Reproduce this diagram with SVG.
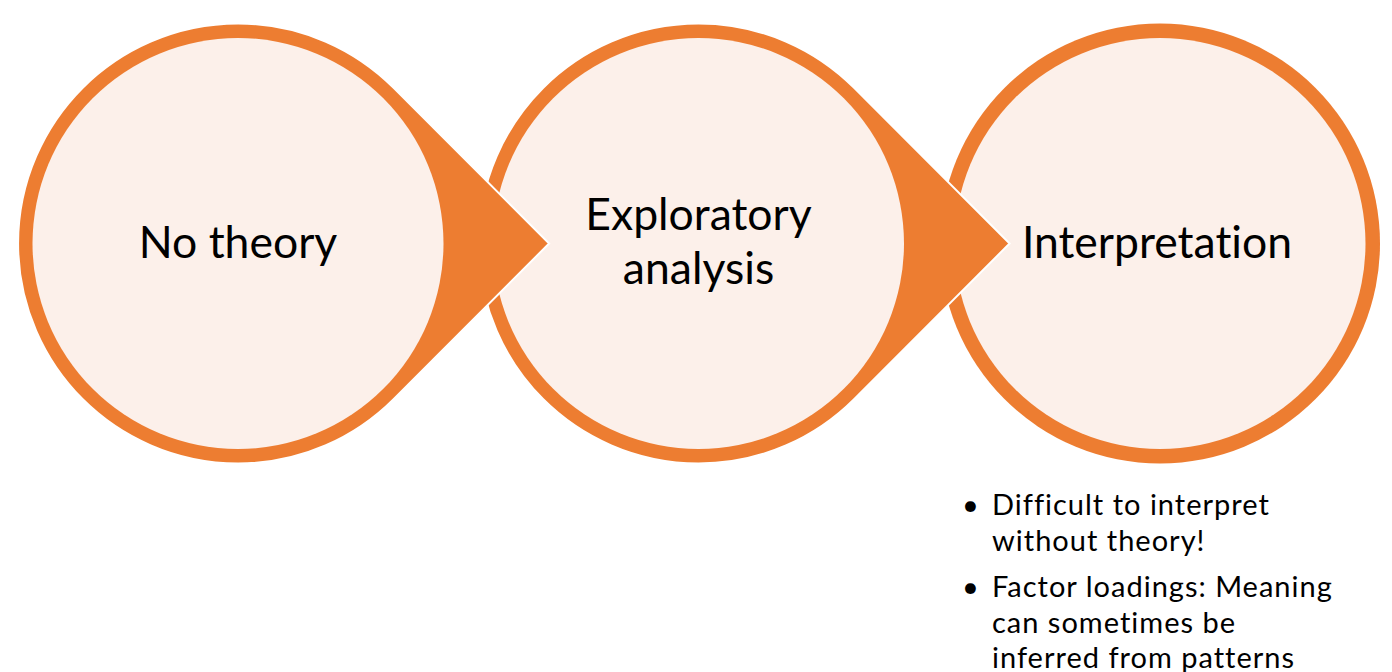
<svg xmlns="http://www.w3.org/2000/svg" width="1392" height="672" viewBox="0 0 1392 672">
  <style>
    .drop { fill: #ED7D31; stroke: #FFFFFF; stroke-width: 2; stroke-linejoin: miter; }
    .ring { fill: #ED7D31; }
    .inner { fill: #FCF0EA; }
    .label { font-family: Lato, "Liberation Sans", sans-serif; font-size: 44.5px; fill: #000000; text-anchor: middle; font-variant-ligatures: none; }
    .note { font-family: Lato, "Liberation Sans", sans-serif; font-size: 29px; letter-spacing: 1px; fill: #000000; font-variant-ligatures: none; }
  </style>
  <rect width="1392" height="672" fill="#FFFFFF"/>

  <g id="node-interpretation">
    <circle class="ring" cx="1160" cy="243.5" r="220"/>
    <circle class="inner" cx="1160" cy="243.5" r="205.5"/>
    <text class="label" x="1157" y="258">Interpretation</text>
  </g>

  <g id="node-exploratory">
    <path class="drop" d="M1009.6 243.5 L854.1 399.1 A220 220 0 1 1 854.1 87.9 Z"/>
    <circle class="inner" cx="698.5" cy="243.5" r="205.5"/>
    <text class="label" x="698.5" y="230">Exploratory</text>
    <text class="label" x="698.5" y="284">analysis</text>
  </g>

  <g id="node-no-theory">
    <path class="drop" d="M549.1 243.5 L393.6 399.1 A220 220 0 1 1 393.6 87.9 Z"/>
    <circle class="inner" cx="238" cy="243.5" r="205.5"/>
    <text class="label" x="238" y="258">No theory</text>
  </g>

  <g id="notes">
    <text class="note" x="962" y="515">•</text>
    <text class="note" x="992" y="515">Difficult to interpret</text>
    <text class="note" x="992" y="551">without theory!</text>
    <text class="note" x="962" y="597">•</text>
    <text class="note" x="992" y="597">Factor loadings: Meaning</text>
    <text class="note" x="992" y="633">can sometimes be</text>
    <text class="note" x="992" y="668">inferred from patterns</text>
  </g>
</svg>
